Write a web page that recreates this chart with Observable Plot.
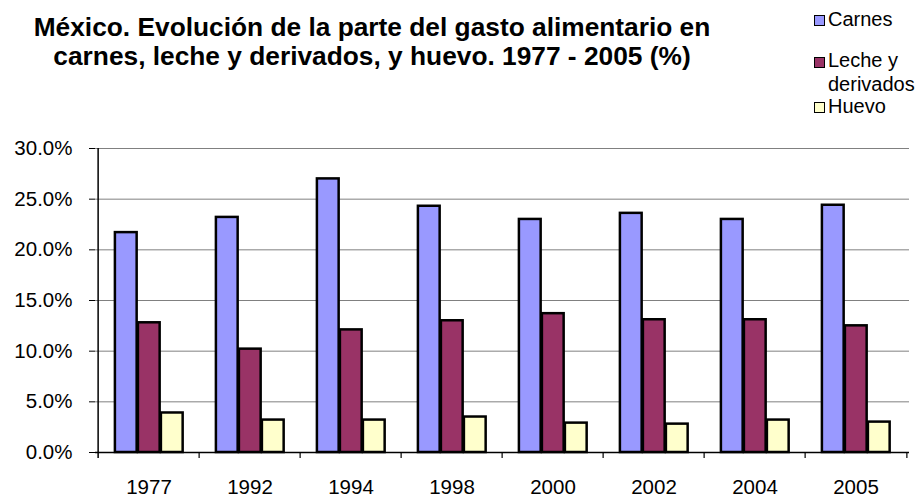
<!DOCTYPE html>
<html>
<head>
<meta charset="utf-8">
<script src="https://cdn.jsdelivr.net/npm/d3@7"></script>
<script src="https://cdn.jsdelivr.net/npm/@observablehq/plot@0.6"></script>
<style>
  html, body { margin: 0; padding: 0; background: white; }
  #wrap { position: relative; width: 918px; height: 497px; font-family: "Liberation Sans", Arial, sans-serif; color: black; }
  #title { position: absolute; left: 0; top: 12.5px; width: 744px; text-align: center; font-weight: bold; font-size: 26.3px; line-height: 29px; }
  .lg { position: absolute; left: 828px; font-size: 20px; line-height: 24px; white-space: nowrap; }
  .sw { position: absolute; left: 814px; width: 9px; height: 9px; border: 1.5px solid black; }
  #chart { position: absolute; left: 0; top: 0; }
</style>
</head>
<body>
<div id="wrap">
  <div id="chart"></div>
  <div id="title">México. Evolución de la parte del gasto alimentario en<br>carnes, leche y derivados, y huevo. 1977 - 2005 (%)</div>
  <div id="legend"></div>
</div>
<script>
const years = ["1977", "1992", "1994", "1998", "2000", "2002", "2004", "2005"];
const carnes = [21.7, 23.2, 27.0, 24.3, 23.0, 23.6, 23.0, 24.4];
const leche = [12.8, 10.2, 12.1, 13.0, 13.7, 13.1, 13.1, 12.5];
const huevo = [3.9, 3.2, 3.2, 3.5, 2.9, 2.8, 3.2, 3.0];
const seriesNames = ["Carnes", "Leche y derivados", "Huevo"];
const seriesColors = ["#9999FF", "#993366", "#FFFFCC"];
const yTicks = [0, 5, 10, 15, 20, 25, 30];
const gridTicks = [5, 10, 15, 20, 25, 30];

const seriesValues = [carnes, leche, huevo];
const tables = seriesValues.map((vals, s) => years.map((y, i) => ({year: y, serie: seriesNames[s], value: vals[i]})));

// bar layout inside each year band (band step ~101.75px)
const barInsets = [[16.9, 62.35], [39.9, 39.35], [62.9, 16.35]];
const half = 814 / years.length / 2;

const barMarks = tables.map((t, s) => Plot.barY(t, {
  x: "year", y: "value", fill: seriesColors[s], stroke: "black", strokeWidth: 2.5,
  insetLeft: barInsets[s][0], insetRight: barInsets[s][1]
}));

const chart = Plot.plot({
  width: 918, height: 497,
  marginLeft: 95, marginRight: 9, marginTop: 148, marginBottom: 45,
  style: {fontFamily: "'Liberation Sans', Arial, sans-serif", fontSize: "20.5px", color: "black", background: "white"},
  x: {domain: years, padding: 0, label: null},
  y: {domain: [0, 30], label: null},
  marks: [
    Plot.gridY(gridTicks, {stroke: "#808080", strokeOpacity: 1}),
    Plot.axisY(yTicks, {tickSize: 6, tickPadding: 17, tickFormat: d => d.toFixed(1) + "%", label: null, stroke: "black"}),
    Plot.axisX({tickSize: 0, tickPadding: 27, label: null}),
    ...barMarks,
    Plot.ruleY([0], {stroke: "black", strokeWidth: 1.5}),
    Plot.ruleX([years[0]], {x: d => d, dx: -half, stroke: "black", strokeWidth: 1.5, insetBottom: -6}),
    Plot.ruleX(years.slice(1), {x: d => d, dx: -half, y1: 0, y2: 0, insetTop: 6, stroke: "black", strokeWidth: 1.2}),
    Plot.ruleX([years[years.length - 1]], {x: d => d, dx: half, y1: 0, y2: 0, insetTop: 6, stroke: "black", strokeWidth: 1.2}),
  ]
});
document.getElementById("chart").appendChild(chart);

const legendTops = [7, 47.8, 94];
const swatchTops = [15, 56.5, 101.5];
const lg = document.getElementById("legend");
seriesNames.forEach((name, s) => {
  const sw = document.createElement("div");
  sw.className = "sw";
  sw.style.top = swatchTops[s] + "px";
  sw.style.background = seriesColors[s];
  lg.appendChild(sw);
  const t = document.createElement("div");
  t.className = "lg";
  t.style.top = legendTops[s] + "px";
  t.innerHTML = name === "Leche y derivados" ? "Leche y<br>derivados" : name;
  lg.appendChild(t);
});
</script>
</body>
</html>
